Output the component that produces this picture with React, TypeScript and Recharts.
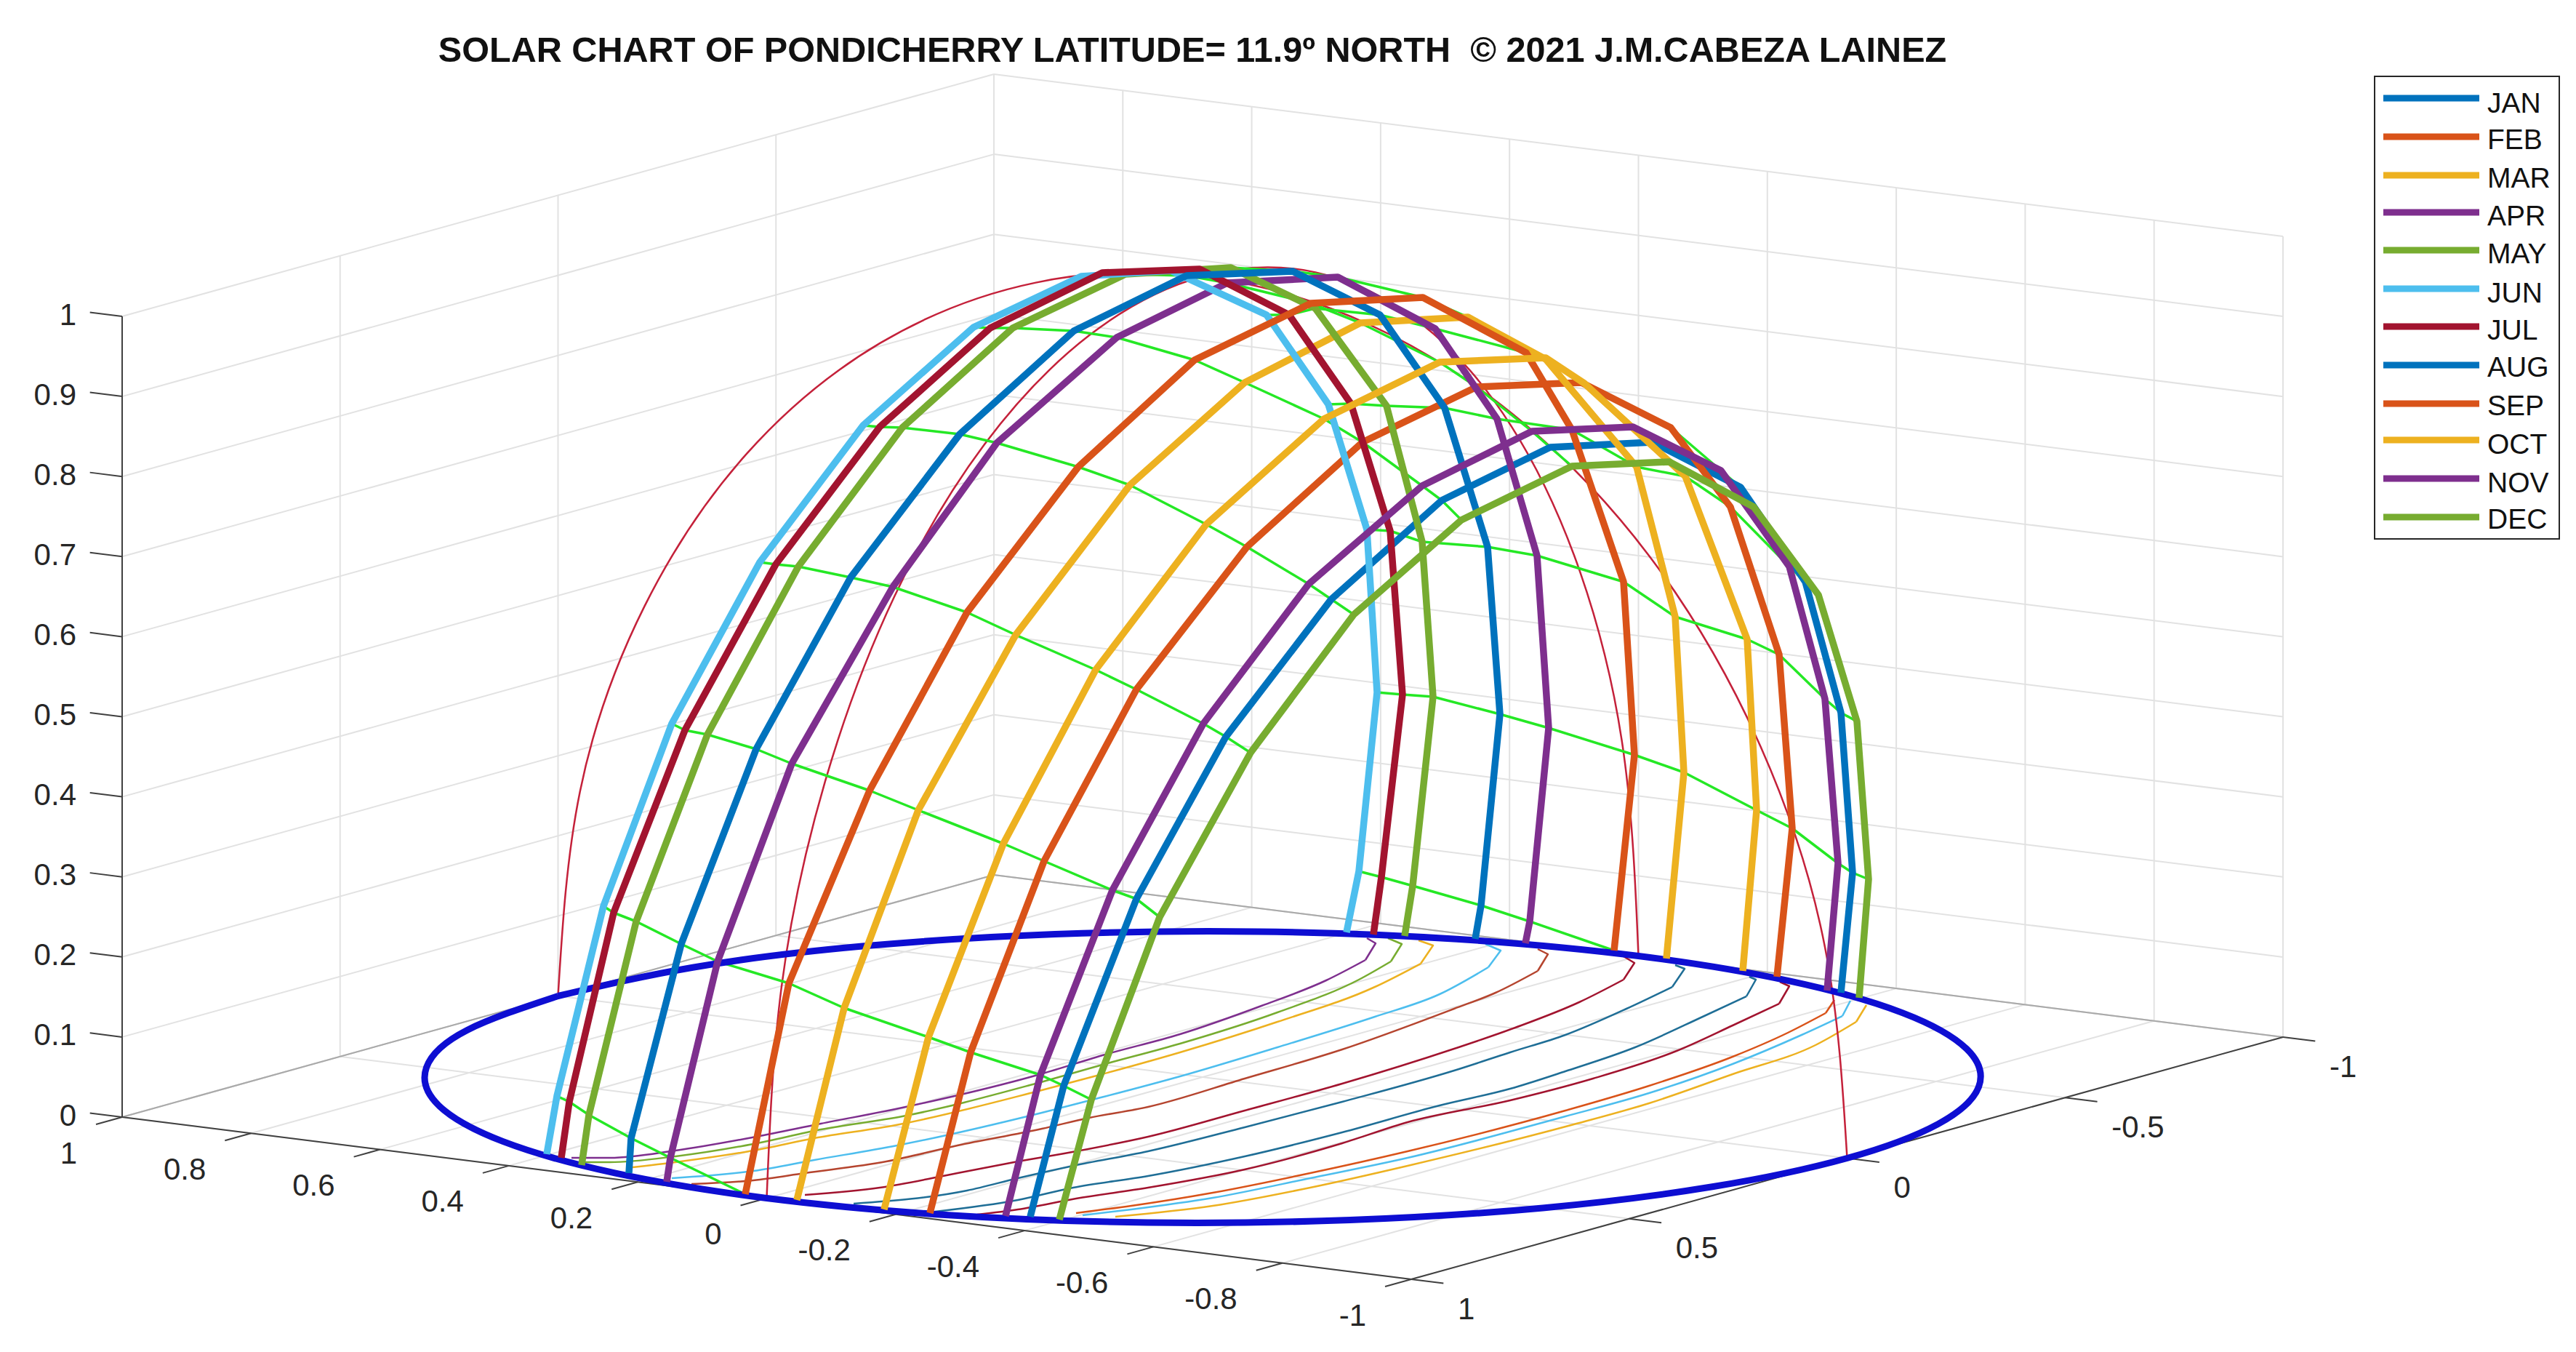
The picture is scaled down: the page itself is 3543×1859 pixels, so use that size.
import { Legend, ReferenceDot, Scatter, ScatterChart, XAxis, YAxis } from "recharts";

type Pt = [number, number];
type Node = Pt | null;

const WIDTH = 3543;
const HEIGHT = 1859;

// month columns, in the order they cross the dome from the viewer's left
const COLUMNS = ["JUN", "JUL", "MAY", "AUG", "APR", "SEP", "MAR", "OCT", "FEB", "NOV", "JAN", "DEC"];
const MONTHS = ["JAN", "FEB", "MAR", "APR", "MAY", "JUN", "JUL", "AUG", "SEP", "OCT", "NOV", "DEC"];
const MONTH_COLORS = ["#0072BD", "#D95319", "#EDB120", "#7E2F8E", "#77AC30", "#4DBEEE", "#A2142F", "#0072BD", "#D95319", "#EDB120", "#7E2F8E", "#77AC30"];

const U_TICKS = [1, 0.8, 0.6, 0.4, 0.2, 0, -0.2, -0.4, -0.6, -0.8, -1];
const V_TICKS = [1, 0.5, 0, -0.5, -1];
const Z_TICKS = [0, 0.1, 0.2, 0.3, 0.4, 0.5, 0.6, 0.7, 0.8, 0.9, 1];

// sun positions, one row per hour, one entry per column
const FOOT_IN: Node[] = [[752, 1587], [772, 1592], [800, 1602], [865, 1613], [917, 1625], [1025, 1642], [1096, 1650], [1216, 1663], [1279, 1668], [1383, 1672], [1417, 1673], [1457, 1677]];
const H1: Node[] = [[766, 1507], [783, 1515], [810, 1533], [868, 1565], [922, 1592], null, null, null, null, null, null, null];
const H2: Node[] = [[830, 1246], [844, 1255], [875, 1267], [937, 1298], [987, 1322], [1085, 1352], [1161, 1386], [1277, 1426], [1335, 1447], [1431, 1478], [1463, 1493], [1501, 1512]];
const H3: Node[] = [[924, 995], [942, 1004], [973, 1010], [1040, 1030], [1089, 1050], [1196, 1087], [1263, 1114], [1380, 1160], [1436, 1184], [1530, 1224], [1563, 1236], [1595, 1261]];
const H4: Node[] = [[1045, 773], [1067, 776], [1098, 779], [1170, 794], [1228, 807], [1330, 842], [1397, 873], [1507, 921], [1563, 948], [1655, 995], [1686, 1013], [1720, 1035]];
const H5: Node[] = [[1187, 585], [1210, 587], [1241, 588], [1320, 597], [1371, 609], [1483, 642], [1554, 667], [1659, 721], [1715, 752], [1800, 803], [1831, 824], [1862, 845]];
const H6: Node[] = [[1339, 450], [1362, 451], [1393, 451], [1477, 455], [1536, 464], [1643, 495], [1712, 526], [1821, 576], [1874, 608], [1956, 668], [1983, 688], [2010, 715]];
const H7: Node[] = [[1487, 380], [1516, 375], [1548, 377], [1632, 379], [1688, 389], [1803, 417], [1871, 444], [1980, 498], [2031, 532], [2107, 593], [2132, 615], [2162, 641]];
const H8: Node[] = [[1610, 372], [1650, 370], [1693, 368], [1778, 373], [1840, 381], [1957, 409], [2019, 436], [2126, 492], [2175, 526], [2246, 587], [2273, 608], [2296, 635]];
const H9: Node[] = [[1742, 433], [1773, 433], [1809, 424], [1898, 433], [1974, 452], [2099, 485], [2126, 494], [2179, 527], [2298, 588], [2367, 647], [2394, 670], [2412, 697]];
const H10: Node[] = [[1827, 556], [1858, 555], [1907, 558], [1987, 561], [2059, 576], [2162, 591], [2251, 642], [2318, 655], [2380, 697], [2461, 779], [2483, 800], [2501, 818]];
const H11: Node[] = [[1880, 728], [1912, 730], [1956, 745], [2046, 752], [2114, 764], [2233, 800], [2304, 848], [2403, 879], [2447, 900], [2510, 961], [2532, 980], [2554, 992]];
const H12: Node[] = [[1894, 952], [1929, 955], [1971, 958], [2063, 982], [2130, 1001], [2248, 1038], [2316, 1062], [2416, 1114], [2465, 1139], [2528, 1187], [2548, 1200], [2570, 1209]];
const H13: Node[] = [[1869, 1198], [1900, 1206], [1943, 1218], [2037, 1245], [2104, 1267], null, null, null, null, null, null, null];
const FOOT_OUT: Node[] = [[1852, 1282], [1889, 1285], [1932, 1287], [2029, 1291], [2098, 1297], [2220, 1307], [2292, 1318], [2397, 1335], [2444, 1343], [2513, 1362], [2532, 1365], [2557, 1372]];

const HOUR_ROWS = [H1, H2, H3, H4, H5, H6, H7, H8, H9, H10, H11, H12, H13];

// horizon circle and the two meridians through the zenith
const HORIZON: Pt[] = [[767.5, 1369.5], [642.5, 1416.4], [586.5, 1467.7], [603.3, 1519.9], [691.5, 1569.4], [845.5, 1612.9], [1054.5, 1647.5], [1304.3, 1670.7], [1578.1, 1681], [1856.9, 1677.5], [2121.9, 1660.9], [2355.1, 1631.8], [2540.5, 1592.5], [2665.5, 1545.6], [2721.5, 1494.3], [2704.7, 1442.1], [2616.5, 1392.6], [2462.5, 1349.1], [2253.5, 1314.5], [2003.7, 1291.3], [1729.9, 1281], [1451.1, 1284.5], [1186.1, 1301.1], [952.9, 1330.2], [767.5, 1369.5]];
const MERIDIAN_A: Pt[] = [[767.5, 1369.5], [797.7, 1088.4], [886.3, 833.9], [1027.2, 623.7], [1210.7, 471.7], [1424.6, 388.6], [1654, 380], [1883.4, 446.4], [2097.3, 583.3], [2280.8, 781.3], [2421.7, 1027.1], [2510.3, 1303.8], [2540.5, 1592.5]];
const MERIDIAN_B: Pt[] = [[1054.5, 1647.5], [1074.9, 1356.9], [1134.8, 1074.7], [1230.1, 820.2], [1354.2, 610.8], [1498.8, 460.6], [1654, 380], [1809.2, 374.4], [1953.8, 444.2], [2077.9, 584.8], [2173.2, 786.3], [2233.1, 1035.3], [2253.5, 1314.5]];

// sun paths projected on the floor, the first points are the little hook at the far end
const FLOOR_1: Pt[] = [[1880, 1290], [1892, 1297], [1878, 1320], [1824, 1348], [1735, 1383], [1623, 1422], [1520, 1450], [1431, 1477], [1241, 1523], [1129, 1545], [1040, 1563], [929, 1582], [839, 1592], [786, 1592]];
const FLOOR_2: Pt[] = [[1909, 1290], [1928, 1298], [1913, 1322], [1869, 1347], [1757, 1392], [1623, 1435], [1520, 1463], [1424, 1490], [1241, 1535], [1129, 1553], [1036, 1573], [929, 1590], [839, 1598], [801, 1598]];
const FLOOR_3: Pt[] = [[1951, 1293], [1971, 1300], [1954, 1325], [1891, 1357], [1757, 1405], [1623, 1447], [1516, 1477], [1429, 1500], [1232, 1547], [1120, 1565], [1036, 1582], [929, 1598], [870, 1605]];
const FLOOR_4: Pt[] = [[2043, 1298], [2064, 1307], [2047, 1330], [1980, 1367], [1891, 1398], [1757, 1440], [1623, 1480], [1503, 1512], [1433, 1530], [1234, 1575], [1120, 1595], [1036, 1610], [924, 1620]];
const FLOOR_5: Pt[] = [[2115, 1305], [2129, 1312], [2115, 1335], [2057, 1365], [2000, 1387], [1846, 1443], [1712, 1483], [1579, 1522], [1498, 1537], [1433, 1552], [1317, 1575], [1219, 1597], [1107, 1613], [1036, 1623], [951, 1628]];
const FLOOR_6: Pt[] = [[2233, 1315], [2248, 1324], [2233, 1347], [2172, 1378], [2084, 1413], [2000, 1442], [1846, 1490], [1712, 1527], [1579, 1563], [1480, 1583], [1400, 1597], [1317, 1613], [1210, 1633], [1107, 1643]];
const FLOOR_7: Pt[] = [[2304, 1327], [2317, 1332], [2300, 1357], [2237, 1387], [2153, 1423], [2077, 1447], [2000, 1472], [1846, 1515], [1712, 1550], [1579, 1583], [1476, 1603], [1400, 1620], [1330, 1637], [1174, 1655]];
const FLOOR_8: Pt[] = [[2406, 1343], [2415, 1347], [2402, 1370], [2344, 1397], [2249, 1440], [2153, 1473], [2077, 1497], [1980, 1520], [1846, 1557], [1712, 1590], [1579, 1617], [1476, 1633], [1400, 1650], [1286, 1666]];
const FLOOR_9: Pt[] = [[2448, 1350], [2461, 1356], [2447, 1380], [2383, 1410], [2306, 1445], [2191, 1483], [2077, 1513], [1936, 1543], [1846, 1572], [1712, 1608], [1579, 1633], [1480, 1648], [1400, 1663], [1344, 1670]];
const FLOOR_10: Pt[] = [[2523, 1375], [2511, 1393], [2459, 1420], [2383, 1453], [2268, 1493], [2153, 1527], [1936, 1583], [1802, 1613], [1668, 1640], [1556, 1658], [1480, 1668]];
const FLOOR_11: Pt[] = [[2545, 1376], [2534, 1397], [2478, 1423], [2383, 1463], [2268, 1503], [2153, 1535], [1936, 1592], [1802, 1620], [1668, 1647], [1556, 1663], [1489, 1671]];
const FLOOR_12: Pt[] = [[2567, 1382], [2553, 1405], [2497, 1437], [2383, 1477], [2268, 1517], [2161, 1547], [1936, 1603], [1802, 1633], [1668, 1658], [1534, 1673]];

const FLOOR_CURVES = [FLOOR_1, FLOOR_2, FLOOR_3, FLOOR_4, FLOOR_5, FLOOR_6, FLOOR_7, FLOOR_8, FLOOR_9, FLOOR_10, FLOOR_11, FLOOR_12];
const FLOOR_COLORS = ["#7E2F8E", "#77AC30", "#EDB120", "#4DBEEE", "#B5452F", "#A2142F", "#1F6E96", "#1F6E96", "#A2142F", "#D95319", "#4DBEEE", "#EDB120"];
const FLOOR_KNEES = [2, 2, 2, 2, 2, 2, 2, 2, 2, 1, 1, 1];

const toPoints = (pts: Node[]) =>
  pts.filter((p): p is Pt => p !== null).map(([x, y]) => ({ x, y }));

// MATLAB's view of the unit box, orthographic so it is just a linear map
const project = (u: number, v: number, z: number): Pt => [
  1654 - 886.5 * u - 599.5 * v,
  1481 - 111.5 * u + 166.5 * v - 1101 * z,
];

const seg = (a: Pt, b: Pt) => toPoints([a, b]);

const gridLines = [
  ...U_TICKS.map((u) => seg(project(u, 1, 0), project(u, -1, 0))),
  ...V_TICKS.map((v) => seg(project(1, v, 0), project(-1, v, 0))),
  ...V_TICKS.map((v) => seg(project(1, v, 0), project(1, v, 1))),
  ...U_TICKS.map((u) => seg(project(u, -1, 0), project(u, -1, 1))),
  ...Z_TICKS.map((z) => seg(project(1, 1, z), project(1, -1, z))),
  ...Z_TICKS.map((z) => seg(project(1, -1, z), project(-1, -1, z))),
];

const axisLines = [
  seg(project(1, 1, 0), project(-1, 1, 0)),
  seg(project(-1, 1, 0), project(-1, -1, 0)),
  seg(project(1, 1, 0), project(1, 1, 1)),
  ...U_TICKS.map((u) => seg(project(u, 1, 0), project(u, 1.06, 0))),
  ...V_TICKS.map((v) => seg(project(-1, v, 0), project(-1.05, v, 0))),
  ...Z_TICKS.map((z) => seg(project(1, 1, z), project(1.05, 1, z))),
];

const hourLines = HOUR_ROWS.map((row, i) => {
  const pts = toPoints(row);
  // the two lowest rows run out to the horizon at the SEP column
  if (i === 0) pts.push(...toPoints([FOOT_IN[5]]));
  if (i === HOUR_ROWS.length - 1) pts.push(...toPoints([FOOT_OUT[5]]));
  return pts;
});

const monthPath = (month: string) => {
  const col = COLUMNS.indexOf(month);
  return toPoints([FOOT_IN[col], ...HOUR_ROWS.map((r) => r[col]), FOOT_OUT[col]]);
};

const TICK_STYLE = { fontFamily: "'Liberation Sans', Arial, sans-serif", fontSize: 42, fill: "#262626" };
const noDot = () => null;

function AxisLabel({ x, y, text, anchor }: { x: number; y: number; text: string; anchor: "start" | "end" }) {
  return (
    <ReferenceDot
      x={x}
      y={y}
      r={0}
      ifOverflow="visible"
      shape={(p: { cx: number; cy: number }) => (
        <text x={p.cx} y={p.cy} textAnchor={anchor} dominantBaseline="central" {...TICK_STYLE}>
          {text}
        </text>
      )}
    />
  );
}

const LEGEND_LINE_Y = [31, 84, 137, 188, 240, 293, 345, 398, 451, 501, 554, 607];
const LEGEND_TEXT_Y = [51, 101, 154, 206, 258, 312, 363, 414, 467, 520, 573, 623];

function MonthLegend() {
  return (
    <svg width={256} height={638} style={{ display: "block" }}>
      <rect x={1} y={1} width={254} height={636} fill="#fff" stroke="#262626" strokeWidth={2} />
      {MONTHS.map((m, i) => (
        <g key={m}>
          <line x1={13} x2={145} y1={LEGEND_LINE_Y[i]} y2={LEGEND_LINE_Y[i]} stroke={MONTH_COLORS[i]} strokeWidth={9} />
          <text x={156} y={LEGEND_TEXT_Y[i]} fontFamily="'Liberation Sans', Arial, sans-serif" fontSize={39} fill="#111">
            {m}
          </text>
        </g>
      ))}
    </svg>
  );
}

export default function App() {
  return (
    <div style={{ position: "absolute", left: 0, top: 0, width: WIDTH, height: HEIGHT, background: "#fff" }}>
      <ScatterChart width={WIDTH} height={HEIGHT} margin={{ top: 0, right: 0, bottom: 0, left: 0 }}>
        <XAxis type="number" dataKey="x" domain={[0, WIDTH]} hide />
        <YAxis type="number" dataKey="y" domain={[0, HEIGHT]} reversed hide />

        {gridLines.map((d, i) => (
          <Scatter key={`grid-${i}`} data={d} isAnimationActive={false} shape={noDot} legendType="none" line={{ stroke: "#e2e2e2", strokeWidth: 2 }} />
        ))}
        <Scatter data={seg(project(1, 1, 0), project(1, -1, 0))} isAnimationActive={false} shape={noDot} line={{ stroke: "#a9a9a9", strokeWidth: 2 }} />
        <Scatter data={seg(project(1, -1, 0), project(-1, -1, 0))} isAnimationActive={false} shape={noDot} line={{ stroke: "#a9a9a9", strokeWidth: 2 }} />
        {axisLines.map((d, i) => (
          <Scatter key={`axis-${i}`} data={d} isAnimationActive={false} shape={noDot} line={{ stroke: "#404040", strokeWidth: 2 }} />
        ))}

        {FLOOR_CURVES.map((c, i) => (
          <Scatter key={`hook-${i}`} data={toPoints(c.slice(0, FLOOR_KNEES[i] + 1))} isAnimationActive={false} shape={noDot} line={{ stroke: FLOOR_COLORS[i], strokeWidth: 2.5, strokeLinejoin: "round" }} />
        ))}
        {FLOOR_CURVES.map((c, i) => (
          // monotone needs rising x, so the long part is handed over left to right
          <Scatter key={`floor-${i}`} data={toPoints(c.slice(FLOOR_KNEES[i]).reverse())} isAnimationActive={false} shape={noDot} lineJointType="monotone" line={{ stroke: FLOOR_COLORS[i], strokeWidth: 2.5 }} />
        ))}
        {[MERIDIAN_A, MERIDIAN_B].map((c, i) => (
          <Scatter key={`meridian-${i}`} data={toPoints(c)} isAnimationActive={false} shape={noDot} lineJointType="natural" line={{ stroke: "#C4213A", strokeWidth: 2.5 }} />
        ))}
        {hourLines.map((d, i) => (
          <Scatter key={`hour-${i}`} data={d} isAnimationActive={false} shape={noDot} line={{ stroke: "#25E825", strokeWidth: 3.5, strokeLinejoin: "round" }} />
        ))}
        <Scatter data={toPoints(HORIZON)} isAnimationActive={false} shape={noDot} lineJointType="natural" line={{ stroke: "#0E0ED2", strokeWidth: 9 }} />
        {MONTHS.map((m, i) => (
          <Scatter key={m} name={m} data={monthPath(m)} isAnimationActive={false} shape={noDot} line={{ stroke: MONTH_COLORS[i], strokeWidth: 9.5, strokeLinejoin: "round" }} />
        ))}

        {Z_TICKS.map((z) => (
          <AxisLabel key={`z-${z}`} x={105} y={project(1, 1, z)[1] - 3} text={String(z)} anchor="end" />
        ))}
        {U_TICKS.map((u) => (
          <AxisLabel key={`u-${u}`} x={project(u, 1, 0)[0] - 62} y={project(u, 1, 0)[1] + 49} text={String(u)} anchor="end" />
        ))}
        {V_TICKS.map((v) => (
          <AxisLabel key={`v-${v}`} x={project(-1, v, 0)[0] + 64} y={project(-1, v, 0)[1] + 40} text={String(v)} anchor="start" />
        ))}

        <text x={1640} y={85} textAnchor="middle" xmlSpace="preserve" fontFamily="'Liberation Sans', Arial, sans-serif" fontWeight="bold" fontSize={48.6} fill="#111">
          {"SOLAR CHART OF PONDICHERRY LATITUDE= 11.9º NORTH  © 2021 J.M.CABEZA LAINEZ"}
        </text>

        <Legend
          layout="vertical"
          align="center"
          verticalAlign="middle"
          content={() => <MonthLegend />}
          wrapperStyle={{ left: 3265, top: 104, width: 256, height: 638 }}
        />
      </ScatterChart>
    </div>
  );
}
